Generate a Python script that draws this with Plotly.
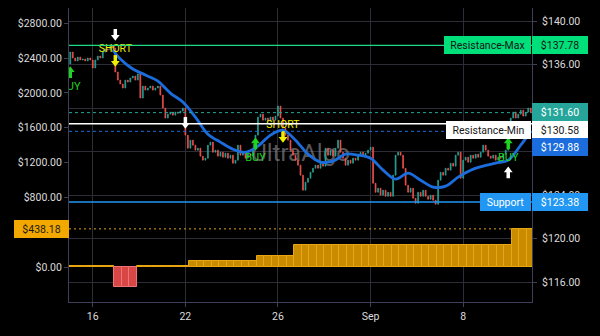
import plotly.graph_objects as go

# ---------------- data ----------------
tick_pos = [9, 46, 83, 120, 157]
tick_labels = ["16", "22", "26", "Sep", "8"]

first_open = 136.07
closes = [
    137.17, 136.62, 136.35, 136.71, 136.44, 136.53, 136.35, 136.62, 136.44, 135.70,
    136.44, 136.80, 136.62, 137.17, 137.45, 137.36, 137.72, 137.54, 135.33, 134.59,
    134.23, 133.86, 134.59, 134.41, 134.78, 134.96, 134.59, 135.15, 132.94, 134.04,
    133.67, 133.86, 134.04, 133.67, 133.86, 134.04, 133.21, 132.02, 131.10, 131.46,
    131.65, 131.37, 131.65, 131.56, 131.74, 132.02, 129.53, 128.33, 129.07, 128.61,
    128.15, 128.33, 127.60, 127.23, 127.41, 128.61, 128.89, 127.96, 128.15, 127.60,
    127.96, 127.50, 127.87, 127.41, 127.69, 126.95, 127.23, 128.61, 127.69, 127.96,
    127.41, 127.78, 127.60, 128.15, 129.53, 131.19, 131.46, 130.91, 131.10, 130.82,
    131.19, 130.91, 131.28, 132.20, 131.10, 130.18, 129.53, 129.07, 128.15, 127.69,
    127.23, 126.77, 125.85, 124.47, 125.20, 125.57, 126.12, 126.49, 126.77, 126.49,
    126.95, 126.68, 128.33, 127.69, 128.15, 127.60, 128.33, 129.07, 127.96, 127.41,
    126.77, 127.23, 126.95, 127.41, 127.23, 127.69, 127.96, 127.60, 127.87, 128.15,
    128.42, 125.11, 124.28, 124.65, 124.01, 124.47, 123.91, 124.28, 123.91, 125.85,
    127.69, 127.96, 127.69, 126.49, 124.93, 124.28, 124.65, 123.73, 123.27, 124.28,
    123.91, 124.47, 123.91, 123.64, 124.01, 123.55, 123.18, 125.39, 126.12, 125.85,
    126.49, 126.31, 126.95, 126.68, 127.69, 127.96, 125.57, 127.23, 127.50, 127.04,
    127.69, 127.41, 127.78, 127.50, 127.96, 128.61, 128.15, 127.60, 127.41, 127.69,
    127.23, 127.50, 127.41, 127.78, 128.15, 129.53, 131.10, 131.65, 131.10, 131.46,
    131.83, 131.28, 131.65, 132.02, 131.60,
]

ma_idx = [17, 20, 25, 30, 35, 40, 45, 50, 55, 60, 65, 70, 75, 80, 85, 90, 95, 100,
          105, 110, 115, 120, 125, 130, 135, 140, 145, 150, 155, 160, 165, 170, 175,
          180, 184]
ma_vals = [137.36, 136.53, 135.61, 135.06, 134.50, 133.40, 132.57, 131.19, 129.62,
           128.89, 128.24, 127.96, 128.52, 129.53, 129.99, 129.07, 127.78, 127.05,
           127.14, 127.78, 127.69, 127.41, 126.31, 125.48, 126.03, 125.39, 124.75,
           124.84, 125.67, 126.31, 126.68, 126.96, 127.23, 128.61, 129.88]

pnl = [6, 6, 6, 6, 6, 6,
       -226, -226, -226,
       12, 12, 12, 12, 12, 12, 12,
       72, 72, 72, 72, 72, 72, 72, 72, 72,
       126, 126, 126, 126, 126,
       253, 253, 253, 253, 253, 253, 253, 253, 253, 253,
       253, 253, 253, 253, 253, 253, 253, 253, 253, 253,
       253, 253, 253, 253, 253, 253, 253, 253, 253,
       438.18, 438.18, 438.18]

level_names = ["Resistance-Max", "Resistance-Min", "Support"]
level_values = [137.78, 130.58, 123.38]

sig_idx = [0, 18, 18, 46, 74, 85, 175, 175]
sig_kind = ["buy", "short", "exit_down", "exit_down", "buy", "short", "buy", "exit_up"]
sig_price = [135.33, 136.34, 138.74, 130.64, 128.79, 129.35, 128.79, 126.12]

left_ticks = [0, 800, 1200, 1600, 2000, 2400, 2800]
left_tick_labels = ["$0.00", "$800.00", "$1200.00", "$1600.00", "$2000.00",
                    "$2400.00", "$2800.00"]

# ---------------- derived ----------------
N = len(closes)
idx = list(range(N))
opens = [first_open] + closes[:-1]
highs = [max(o, c) for o, c in zip(opens, closes)]
lows = [min(o, c) for o, c in zip(opens, closes)]
last_price = closes[-1]
ma_last = ma_vals[-1]
pnl_last = pnl[-1]

# ---------------- style ----------------
W, H = 600, 336
MARG = dict(l=69, r=68, t=8, b=34)
Y_LEFT = [-402, 2976]
Y_RIGHT = [114.19, 141.22]
plot_h = H - MARG["t"] - MARG["b"]
px = (Y_RIGHT[1] - Y_RIGHT[0]) / plot_h

FONT = "Roboto"
UP = "#26a69a"
DOWN = "#ef5350"
MA_BLUE = "#1b6ddd"
RES_MAX = "#1fd882"
RES_MAX_BG = "#00e07a"
SUPPORT = "#2196f3"
PNL_POS = "#c98b00"
PNL_POS_L = "#e9a612"
PNL_NEG = "#d94646"
PNL_NEG_L = "#f07474"
PNL_LINE = "#e0a418"
GRID = "#2d2d37"
AXLINE = "#3f3f58"
TXT = "#dcdcdc"
GREEN = "#1fd41f"
YELLOW = "#eeee00"
WHITE = "#ffffff"

fig = go.Figure()

# watermark (on base axis -> drawn beneath price series)
fig.add_trace(go.Scatter(
    x=[(N - 1) / 2], y=[(Y_LEFT[0] + Y_LEFT[1]) / 2], mode="text",
    text=["UltraAlgo"], textfont=dict(size=24, color="rgba(140,140,140,0.65)", family=FONT),
    hoverinfo="skip", xaxis="x", yaxis="y", cliponaxis=False))

# PnL histogram (left axis)
bar_x = [3 * j + 1 for j in range(len(pnl))]
fig.add_trace(go.Bar(
    x=bar_x, y=pnl, width=3, xaxis="x", yaxis="y",
    marker=dict(color=[PNL_POS if v >= 0 else PNL_NEG for v in pnl],
                line=dict(color=[PNL_POS_L if v >= 0 else PNL_NEG_L for v in pnl], width=1)),
    hoverinfo="skip"))

# candles (right axis)
fig.add_trace(go.Candlestick(
    x=idx, open=opens, high=highs, low=lows, close=closes, xaxis="x", yaxis="y2",
    increasing=dict(line=dict(color=UP, width=0.7), fillcolor=UP),
    decreasing=dict(line=dict(color=DOWN, width=0.7), fillcolor=DOWN),
    whiskerwidth=0, hoverinfo="skip"))

# moving average
fig.add_trace(go.Scatter(
    x=ma_idx, y=ma_vals, mode="lines", xaxis="x", yaxis="y2",
    line=dict(color=MA_BLUE, width=2.8, shape="spline", smoothing=0.9), hoverinfo="skip"))

# signal arrows
kind_style = {
    "buy": (GREEN, "up"),
    "short": (YELLOW, "down"),
    "exit_down": (WHITE, "down"),
    "exit_up": (WHITE, "up"),
}
for kind, (col, direction) in kind_style.items():
    xs = [i for i, k in zip(sig_idx, sig_kind) if k == kind]
    ps = [p for p, k in zip(sig_price, sig_kind) if k == kind]
    if not xs:
        continue
    if direction == "up":
        head_y = [p + 1.9 * px for p in ps]
        stem_y = [p - 2.5 * px for p in ps]
        sym = "triangle-up"
    else:
        head_y = [p - 1.9 * px for p in ps]
        stem_y = [p + 2.5 * px for p in ps]
        sym = "triangle-down"
    fig.add_trace(go.Scatter(
        x=xs, y=stem_y, mode="markers", xaxis="x", yaxis="y2",
        marker=dict(symbol="line-ns", size=5, line=dict(color=col, width=3.5)),
        hoverinfo="skip"))
    fig.add_trace(go.Scatter(
        x=xs, y=head_y, mode="markers", xaxis="x", yaxis="y2",
        marker=dict(symbol=sym, size=7.6, color=col, line=dict(width=0)),
        hoverinfo="skip"))

# signal texts
buy_x = [i for i, k in zip(sig_idx, sig_kind) if k == "buy"]
buy_y = [p - 15 * px for p, k in zip(sig_price, sig_kind) if k == "buy"]
short_x = [i for i, k in zip(sig_idx, sig_kind) if k == "short"]
short_y = [p + 12 * px for p, k in zip(sig_price, sig_kind) if k == "short"]
fig.add_trace(go.Scatter(
    x=buy_x, y=buy_y, mode="text", text=["BUY"] * len(buy_x), xaxis="x", yaxis="y2",
    textfont=dict(size=11, color=GREEN, family=FONT), hoverinfo="skip"))
fig.add_trace(go.Scatter(
    x=short_x, y=short_y, mode="text", text=["SHORT"] * len(short_x), xaxis="x", yaxis="y2",
    textfont=dict(size=10.5, color=YELLOW, family=FONT), hoverinfo="skip"))

# ---------------- price lines ----------------
shapes = []


def hline(val, yref, color, width, dash="solid"):
    shapes.append(dict(type="line", xref="paper", x0=0, x1=1, yref=yref, y0=val, y1=val,
                       line=dict(color=color, width=width, dash=dash), layer="above"))


level_line = {"Resistance-Max": (RES_MAX, 1.2), "Resistance-Min": (WHITE, 1.5),
              "Support": (SUPPORT, 1.5)}
for name, val in zip(level_names, level_values):
    c, w = level_line[name]
    hline(val, "y2", c, w)
hline(last_price, "y2", UP, 1, "3px,3px")
hline(ma_last, "y2", MA_BLUE, 1, "3px,3px")
hline(pnl_last, "y", PNL_LINE, 1, "2px,3px")

# ---------------- labels ----------------
annotations = []


def box(text, y, yref, x, xanchor, bg, fg, width, yshift=0, xshift=0):
    annotations.append(dict(
        x=x, xref="paper", y=y, yref=yref, xanchor=xanchor, yanchor="middle",
        text=text, showarrow=False, bgcolor=bg, borderwidth=0, borderpad=2,
        width=width, height=14, align="center", yshift=yshift, xshift=xshift,
        font=dict(color=fg, size=10.5, family=FONT)))


level_box = {"Resistance-Max": (RES_MAX_BG, "#151515", 83, 0),
             "Resistance-Min": (WHITE, "#151515", 81, -6),
             "Support": (SUPPORT, WHITE, 47, 0)}
for name, val in zip(level_names, level_values):
    bg, fg, wname, ysh = level_box[name]
    box(name, val, "y2", 1, "right", bg, fg, wname, yshift=ysh, xshift=-1)
    box("$%.2f" % val, val, "y2", 1, "left", bg, fg, 52, yshift=ysh)
box("$%.2f" % last_price, last_price, "y2", 1, "left", UP, WHITE, 52, yshift=1)
box("$%.2f" % ma_last, ma_last, "y2", 1, "left", MA_BLUE, WHITE, 52, yshift=-16)
box("$%.2f" % pnl_last, pnl_last, "y", 0, "right", "#f3a800", "#1a1a1a", 51)

# ---------------- layout ----------------
fig.update_layout(
    width=W, height=H, margin=MARG,
    paper_bgcolor="#000000", plot_bgcolor="#000000",
    font=dict(family=FONT, size=10.5, color=TXT),
    showlegend=False, hovermode=False, boxgap=0.5, bargap=0,
    shapes=shapes, annotations=annotations,
    xaxis=dict(range=[-0.5, N - 0.5], tickvals=tick_pos, ticktext=tick_labels,
               showgrid=True, gridcolor=GRID, gridwidth=1, zeroline=False,
               ticks="outside", ticklen=4, tickcolor=AXLINE,
               showline=True, linecolor=AXLINE, linewidth=1,
               rangeslider=dict(visible=False), fixedrange=True),
    yaxis=dict(range=Y_LEFT, tickvals=left_ticks, ticktext=left_tick_labels,
               showgrid=False, zeroline=False, ticks="outside", ticklen=4,
               tickcolor=AXLINE, showline=True, linecolor=AXLINE, linewidth=1,
               fixedrange=True),
    yaxis2=dict(range=Y_RIGHT, overlaying="y", side="right", tick0=116, dtick=4,
                tickprefix="$", tickformat=".2f", showgrid=True, gridcolor=GRID,
                zeroline=False, ticks="outside", ticklen=4, tickcolor=AXLINE,
                ticklabelstandoff=3,
                showline=True, linecolor=AXLINE, linewidth=1, fixedrange=True),
)

fig.write_html("out.html", include_plotlyjs=True, config={"displayModeBar": False})
